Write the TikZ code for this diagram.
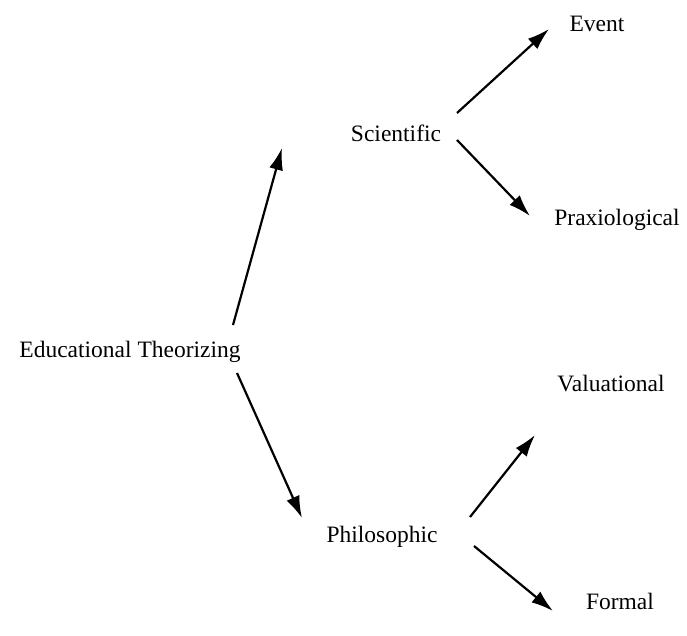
\documentclass[tikz,border=0pt]{standalone}
\usepackage{fontspec}
\setmainfont{Liberation Serif}
\usetikzlibrary{arrows.meta}
\begin{document}
\begin{tikzpicture}[x=1pt,y=-1pt,
  lbl/.style={inner sep=0pt,font=\fontsize{23.5}{28}\selectfont},
  arr/.style={line width=2.2pt,-{Latex[length=22pt,width=14pt]}}]
\useasboundingbox (0,0) rectangle (687,636);
\node[lbl] (et) at (130,352) {Educational Theorizing};
\node[lbl] (sc) at (396,133) {Scientific};
\node[lbl] (ph) at (382,537) {Philosophic};
\node[lbl] (ev) at (597,24) {Event};
\node[lbl] (pr) at (617,220) {Praxiological};
\node[lbl] (va) at (611,384) {Valuational};
\node[lbl] (fo) at (620,601) {Formal};
\coordinate (a1s) at (233,325); \coordinate (a1e) at (282,148);
\coordinate (a2s) at (237,373); \coordinate (a2e) at (302,518);
\coordinate (a3s) at (457,113); \coordinate (a3e) at (549,29);
\coordinate (a4s) at (457,140); \coordinate (a4e) at (530,216);
\coordinate (a5s) at (470,517); \coordinate (a5e) at (535,435);
\coordinate (a6s) at (474,546); \coordinate (a6e) at (553,611);
\draw[arr] (a1s) -- (a1e);
\draw[arr] (a2s) -- (a2e);
\draw[arr] (a3s) -- (a3e);
\draw[arr] (a4s) -- (a4e);
\draw[arr] (a5s) -- (a5e);
\draw[arr] (a6s) -- (a6e);
\end{tikzpicture}
\end{document}
